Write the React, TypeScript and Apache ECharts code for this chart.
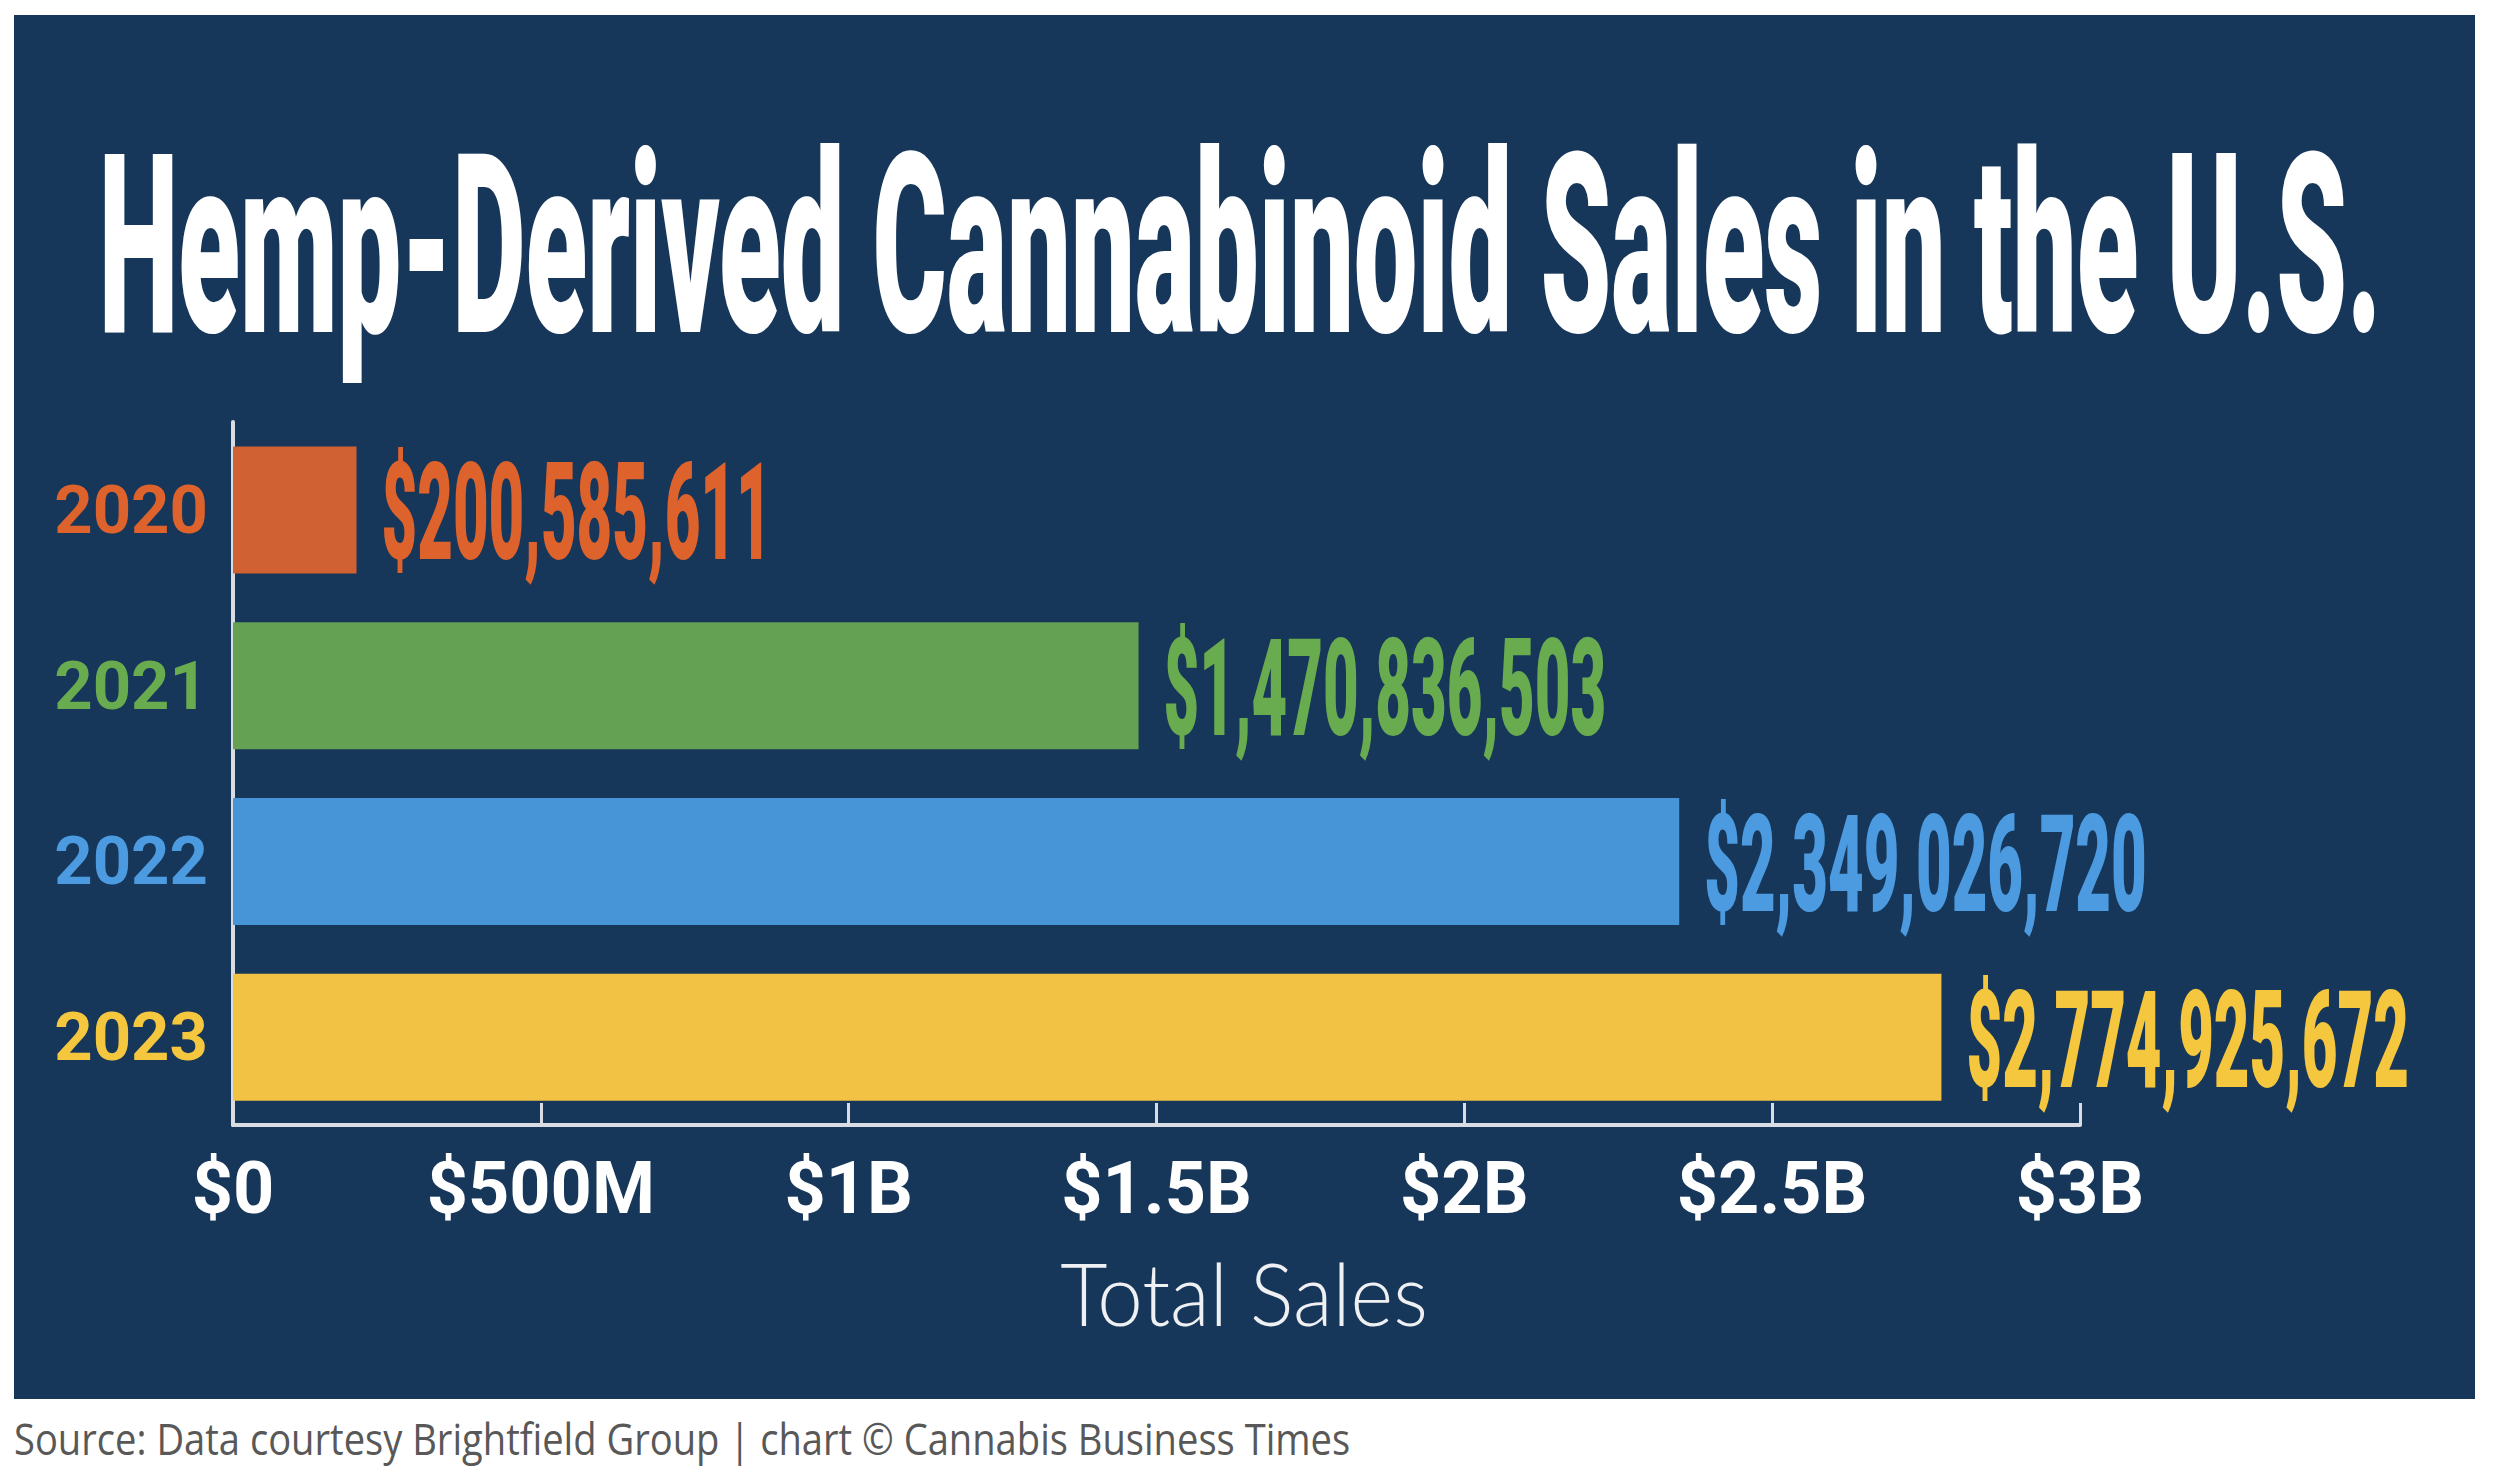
import React, { useEffect, useRef } from "react";
import * as echarts from "echarts";

const years = ["2020", "2021", "2022", "2023"];
const sales = [200585611, 1470836503, 2349026720, 2774925672];
const barColors = ["#D06133", "#64A152", "#4794D7", "#F2C244"];
const textColors = ["#DD622B", "#69AB4F", "#4C9BE0", "#F5C73E"];
const xTickLabels = ["$0", "$500M", "$1B", "$1.5B", "$2B", "$2.5B", "$3B"];
const xMax = 3000000000;
const xStep = 500000000;
const titleText = "Hemp-Derived Cannabinoid Sales in the U.S.";
const axisTitle = "Total Sales";
const sourceText = "Source: Data courtesy Brightfield Group | chart © Cannabis Business Times";

const NAVY = "#17375A";
const AXIS = "#D9DDE3";

function measure(text: string, font: string): number {
  const c = document.createElement("canvas");
  const ctx = c.getContext("2d")!;
  ctx.font = font;
  return ctx.measureText(text).width || 1;
}

function fmtMoney(v: number): string {
  return "$" + Math.round(v).toLocaleString("en-US");
}

export default function App() {
  const ref = useRef<HTMLDivElement>(null);

  useEffect(() => {
    if (!ref.current) return;
    const chart = echarts.init(ref.current, null, { renderer: "svg" });

    const titleFont = "900 250px Roboto";
    const titleScale = 2282 / measure(titleText, titleFont);
    const valueFont = "900 136px Roboto";
    const valueScale = 443 / measure("$2,774,925,672", valueFont);
    const nameFont = "300 86px Lato";
    const nameScale = 368 / measure(axisTitle, nameFont);
    const srcFont = '400 43px "Open Sans"';
    const srcScale = 1336 / measure(sourceText, srcFont);

    const option: any = {
      animation: false,
      backgroundColor: "#ffffff",
      grid: { left: 233, right: 418, top: 422, bottom: 359, containLabel: false },
      xAxis: {
        type: "value",
        min: 0,
        max: xMax,
        interval: xStep,
        axisLine: { show: true, lineStyle: { color: AXIS, width: 4 } },
        axisTick: { show: true, inside: true, length: 22, lineStyle: { color: AXIS, width: 3 } },
        splitLine: { show: false },
        axisLabel: {
          margin: 27,
          color: "#FFFFFF",
          fontFamily: "Roboto",
          fontWeight: 700,
          fontSize: 72,
          formatter: (v: number) => xTickLabels[Math.round(v / xStep)] ?? "",
        },
      },
      yAxis: {
        type: "category",
        inverse: true,
        data: years,
        axisLine: { show: true, lineStyle: { color: AXIS, width: 4 } },
        axisTick: { show: false },
        splitLine: { show: false },
        axisLabel: {
          margin: 25,
          fontFamily: "Roboto",
          fontWeight: 700,
          fontSize: 67,
          color: (_v: string, i: number) => textColors[i],
        },
      },
      graphic: [
        {
          type: "rect",
          z: -100,
          silent: true,
          shape: { x: 14, y: 15, width: 2461, height: 1384 },
          style: { fill: NAVY },
        },
        {
          type: "text",
          z: 10,
          x: 1240,
          y: 246,
          scaleX: titleScale,
          style: {
            text: titleText,
            font: titleFont,
            fill: "#FFFFFF",
            align: "center",
            verticalAlign: "middle",
            textAlign: "center",
            textVerticalAlign: "middle",
          },
        },
        {
          type: "text",
          z: 10,
          x: 1244,
          y: 1293,
          scaleX: nameScale,
          style: {
            text: axisTitle,
            font: nameFont,
            fill: "#EEF0F3",
            align: "center",
            verticalAlign: "middle",
            textAlign: "center",
            textVerticalAlign: "middle",
          },
        },
        {
          type: "text",
          z: 10,
          x: 14,
          y: 1439,
          scaleX: srcScale,
          style: {
            text: sourceText,
            font: srcFont,
            fill: "#585858",
            align: "left",
            verticalAlign: "middle",
            textAlign: "left",
            textVerticalAlign: "middle",
          },
        },
      ],
      series: [
        {
          type: "bar",
          barWidth: 127,
          data: sales.map((v, i) => ({ value: v, itemStyle: { color: barColors[i] } })),
          z: 2,
        },
        {
          type: "custom",
          z: 5,
          clip: false,
          encode: { x: 0, y: 1 },
          data: sales.map((v, i) => [v, i]),
          renderItem: (_params: any, api: any) => {
            const v = api.value(0);
            const idx = api.value(1);
            const p = api.coord([v, idx]);
            return {
              type: "text",
              x: p[0] + 25,
              y: p[1] + 3,
              scaleX: valueScale,
              style: {
                text: fmtMoney(v),
                font: valueFont,
                fill: textColors[idx],
                align: "left",
                verticalAlign: "middle",
                textAlign: "left",
                textVerticalAlign: "middle",
              },
            };
          },
        },
      ],
    };

    chart.setOption(option);
    return () => chart.dispose();
  }, []);

  return (
    <div
      ref={ref}
      style={{ position: "absolute", left: 0, top: 0, width: 2498, height: 1484 }}
    />
  );
}
